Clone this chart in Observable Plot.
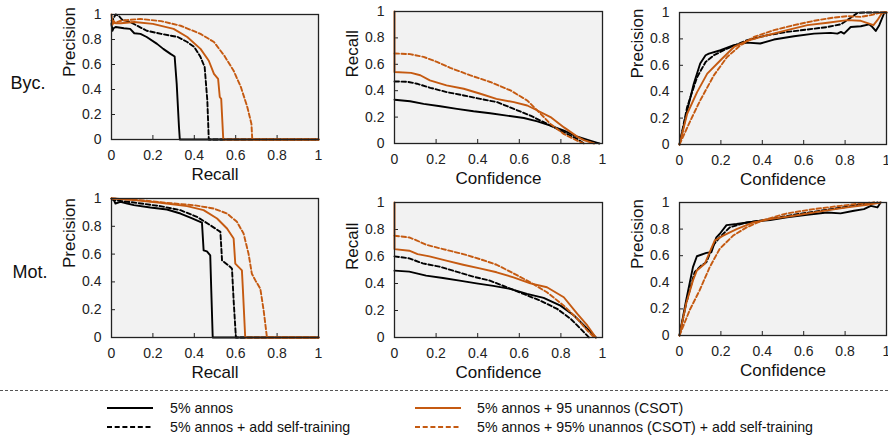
<!DOCTYPE html>
<html>
<head>
<meta charset="utf-8">
<script src="https://cdn.jsdelivr.net/npm/d3@7"></script>
<script src="https://cdn.jsdelivr.net/npm/@observablehq/plot@0.6"></script>
<style>
  html, body { margin: 0; padding: 0; background: #fff; overflow: hidden; }
  #root { position: relative; width: 888px; height: 435px; overflow: hidden; font-family: "Liberation Sans", Arial, sans-serif; }
  .rowlab { position: absolute; font-size: 18px; color: #111; transform: translate(-50%, -50%); }
  .legtext { position: absolute; font-size: 14.2px; color: #111; transform: translateY(-50%); white-space: nowrap; }
</style>
</head>
<body>
<div id="root"></div>
<script>
// ---------- data ----------
const seriesNames = [
  "5% annos",
  "5% annos + add self-training",
  "5% annos + 95 unannos (CSOT)",
  "5% annos + 95% unannos (CSOT) + add self-training"
];
const seriesColors = ["#000000", "#000000", "#c55a11", "#c55a11"];
const seriesDash = [null, "4.5,2.5", null, "4.5,2.5"];
const ticks = [0, 0.2, 0.4, 0.6, 0.8, 1];
const rowLabels = ["Byc.", "Mot."];

// Bicycle: precision vs recall
const bycPR_base = [[0,0.92],[0.005,0.87],[0.01,0.89],[0.02,0.9],[0.06,0.89],[0.09,0.885],[0.11,0.85],[0.14,0.845],[0.17,0.82],[0.22,0.765],[0.25,0.725],[0.285,0.685],[0.305,0.664],[0.315,0.445],[0.326,0.1],[0.33,0],[1,0]];
const bycPR_st   = [[0,0.93],[0.01,0.97],[0.02,1],[0.035,0.99],[0.05,0.96],[0.09,0.94],[0.17,0.87],[0.24,0.845],[0.32,0.82],[0.366,0.78],[0.4,0.74],[0.43,0.66],[0.45,0.58],[0.463,0.31],[0.47,0],[1,0]];
const bycPR_csot = [[0,1],[0.005,0.92],[0.01,0.95],[0.02,0.93],[0.045,0.93],[0.11,0.94],[0.2,0.925],[0.3,0.885],[0.366,0.82],[0.43,0.725],[0.47,0.63],[0.495,0.525],[0.515,0.485],[0.523,0.34],[0.53,0.325],[0.54,0],[1,0]];
const bycPR_csotST = [[0,0.95],[0.01,0.93],[0.045,0.95],[0.14,0.965],[0.24,0.947],[0.334,0.91],[0.43,0.845],[0.495,0.78],[0.545,0.67],[0.59,0.55],[0.625,0.42],[0.656,0.26],[0.676,0.125],[0.68,0],[1,0]];

// Bicycle: recall vs confidence
const bycRC_base = [[0,0.331],[0.075,0.32],[0.14,0.3],[0.22,0.282],[0.3,0.262],[0.38,0.244],[0.46,0.229],[0.54,0.211],[0.622,0.193],[0.687,0.168],[0.75,0.135],[0.815,0.097],[0.88,0.051],[0.944,0.02],[0.976,0.005],[0.985,0]];
const bycRC_st   = [[0,0.47],[0.06,0.468],[0.108,0.453],[0.172,0.422],[0.252,0.389],[0.333,0.364],[0.413,0.338],[0.494,0.313],[0.574,0.262],[0.654,0.211],[0.735,0.148],[0.815,0.084],[0.88,0.033],[0.91,0]];
const bycRC_csot = [[0,1],[0,0.542],[0.08,0.535],[0.124,0.517],[0.17,0.478],[0.25,0.44],[0.333,0.415],[0.413,0.377],[0.49,0.338],[0.574,0.313],[0.638,0.288],[0.687,0.25],[0.75,0.2],[0.815,0.122],[0.88,0.05],[0.91,0.025],[0.96,0]];
const bycRC_csotST = [[0,0.682],[0.075,0.677],[0.14,0.656],[0.204,0.618],[0.268,0.573],[0.365,0.516],[0.46,0.466],[0.558,0.402],[0.638,0.326],[0.687,0.25],[0.75,0.148],[0.815,0.071],[0.88,0.02],[0.91,0]];

// Bicycle: precision vs confidence
const bycPC_base = [[0,0],[0.037,0.258],[0.069,0.46],[0.1,0.613],[0.126,0.676],[0.142,0.689],[0.198,0.714],[0.263,0.752],[0.327,0.772],[0.39,0.765],[0.456,0.795],[0.553,0.82],[0.65,0.84],[0.73,0.846],[0.763,0.84],[0.78,0.853],[0.795,0.84],[0.827,0.89],[0.876,0.896],[0.916,0.91],[0.932,0.89],[0.948,0.86],[0.965,0.904],[0.99,1],[1,1]];
const bycPC_st   = [[0,0],[0.037,0.284],[0.085,0.51],[0.126,0.625],[0.166,0.676],[0.23,0.727],[0.327,0.79],[0.424,0.828],[0.52,0.853],[0.618,0.871],[0.715,0.89],[0.78,0.911],[0.827,0.96],[0.86,0.997],[0.9,1],[1,1]];
const bycPC_csot = [[0,0],[0.037,0.233],[0.085,0.397],[0.134,0.537],[0.198,0.638],[0.263,0.739],[0.327,0.785],[0.424,0.828],[0.52,0.866],[0.618,0.904],[0.715,0.922],[0.81,0.942],[0.876,0.937],[0.916,0.916],[0.937,0.904],[0.956,0.942],[0.98,1],[1,1]];
const bycPC_csotST = [[0,0],[0.053,0.182],[0.1,0.334],[0.166,0.524],[0.23,0.663],[0.295,0.752],[0.36,0.815],[0.456,0.866],[0.553,0.904],[0.65,0.937],[0.747,0.962],[0.81,0.972],[0.876,0.967],[0.924,0.98],[0.97,1],[1,1]];

// Motorcycle: precision vs recall
const motPR_base = [[0,1],[0.011,0.988],[0.019,0.964],[0.043,0.976],[0.076,0.964],[0.108,0.952],[0.188,0.935],[0.268,0.921],[0.333,0.892],[0.381,0.863],[0.437,0.827],[0.445,0.627],[0.461,0.62],[0.477,0.591],[0.482,0.339],[0.489,0],[1,0]];
const motPR_st   = [[0,1],[0.011,0.988],[0.108,0.971],[0.236,0.945],[0.333,0.916],[0.413,0.868],[0.477,0.808],[0.526,0.76],[0.534,0.555],[0.574,0.507],[0.582,0.495],[0.59,0.267],[0.601,0],[1,0]];
const motPR_csot = [[0,1],[0.011,1],[0.108,0.988],[0.236,0.969],[0.365,0.945],[0.445,0.916],[0.51,0.856],[0.558,0.784],[0.59,0.712],[0.598,0.531],[0.63,0.483],[0.635,0.339],[0.646,0],[1,0]];
const motPR_csotST = [[0,1],[0.14,0.988],[0.268,0.969],[0.397,0.952],[0.494,0.928],[0.558,0.892],[0.606,0.832],[0.638,0.748],[0.662,0.603],[0.678,0.459],[0.695,0.411],[0.719,0.351],[0.735,0.195],[0.751,0],[1,0]];

// Motorcycle: recall vs confidence
const motRC_base = [[0,0.495],[0.071,0.488],[0.152,0.458],[0.233,0.441],[0.313,0.421],[0.394,0.401],[0.475,0.382],[0.556,0.36],[0.637,0.323],[0.717,0.293],[0.798,0.236],[0.863,0.163],[0.911,0.089],[0.952,0.027],[0.968,0]];
const motRC_st   = [[0,0.601],[0.071,0.586],[0.136,0.549],[0.216,0.525],[0.297,0.488],[0.378,0.451],[0.459,0.421],[0.54,0.372],[0.62,0.323],[0.701,0.273],[0.782,0.212],[0.847,0.138],[0.895,0.064],[0.935,0]];
const motRC_csot = [[0,1],[0,0.655],[0.071,0.643],[0.111,0.618],[0.168,0.601],[0.249,0.569],[0.33,0.539],[0.41,0.512],[0.491,0.483],[0.572,0.446],[0.653,0.401],[0.733,0.372],[0.814,0.298],[0.879,0.175],[0.927,0.089],[0.968,0]];
const motRC_csotST = [[0,0.754],[0.071,0.741],[0.103,0.722],[0.152,0.687],[0.233,0.655],[0.33,0.618],[0.41,0.581],[0.491,0.539],[0.572,0.475],[0.653,0.409],[0.733,0.335],[0.814,0.236],[0.879,0.138],[0.927,0.052],[0.96,0]];

// Motorcycle: precision vs confidence
const motPC_base = [[0,0],[0.032,0.264],[0.065,0.514],[0.084,0.596],[0.13,0.621],[0.154,0.626],[0.178,0.738],[0.194,0.763],[0.227,0.83],[0.276,0.838],[0.357,0.855],[0.438,0.868],[0.519,0.888],[0.616,0.908],[0.713,0.925],[0.778,0.918],[0.843,0.938],[0.891,0.95],[0.924,0.975],[0.956,0.963],[0.972,1]];
const motPC_st   = [[0,0],[0.032,0.239],[0.073,0.476],[0.105,0.526],[0.13,0.551],[0.162,0.676],[0.194,0.738],[0.243,0.813],[0.324,0.85],[0.438,0.875],[0.551,0.908],[0.681,0.938],[0.81,0.968],[0.908,0.993],[0.956,1]];
const motPC_csot = [[0,0],[0.032,0.239],[0.065,0.414],[0.084,0.489],[0.122,0.539],[0.146,0.626],[0.17,0.713],[0.211,0.751],[0.276,0.8],[0.357,0.85],[0.438,0.875],[0.551,0.9],[0.681,0.933],[0.81,0.963],[0.908,0.983],[0.972,1]];
const motPC_csotST = [[0,0],[0.049,0.19],[0.097,0.339],[0.146,0.514],[0.194,0.651],[0.259,0.751],[0.324,0.813],[0.405,0.868],[0.519,0.918],[0.648,0.95],[0.778,0.975],[0.875,0.993],[0.94,1]];

// ---------- layout ----------
const panels = [
  {box:[111,318,14,139],  xlabel:"Recall",     ylabel:"Precision", data:[bycPR_base,bycPR_st,bycPR_csot,bycPR_csotST]},
  {box:[394,602,11,143],  xlabel:"Confidence", ylabel:"Recall",    data:[bycRC_base,bycRC_st,bycRC_csot,bycRC_csotST]},
  {box:[679,886,12,144],  xlabel:"Confidence", ylabel:"Precision", data:[bycPC_base,bycPC_st,bycPC_csot,bycPC_csotST]},
  {box:[111,318,198,337], xlabel:"Recall",     ylabel:"Precision", data:[motPR_base,motPR_st,motPR_csot,motPR_csotST]},
  {box:[394,602,202,337], xlabel:"Confidence", ylabel:"Recall",    data:[motRC_base,motRC_st,motRC_csot,motRC_csotST]},
  {box:[679,886,202,335], xlabel:"Confidence", ylabel:"Precision", data:[motPC_base,motPC_st,motPC_csot,motPC_csotST]}
];

const root = document.getElementById("root");
const FONT = "'Liberation Sans', Arial, sans-serif";
const fmt = d => (d === 0 ? "0" : d === 1 ? "1" : d.toFixed(1));
const ML = 64, MR = 6, MT = 8, MB = 50;

panels.forEach(p => {
  const [x0, x1, y0, y1] = p.box;
  const pw = x1 - x0, ph = y1 - y0;
  const rows = [];
  p.data.forEach((arr, i) => arr.forEach(([x, y]) => rows.push({x, y, s: i})));
  const marks = [
    Plot.frame({fill: "#f2f2f2"}),
    Plot.ruleX(ticks.slice(1, -1), {x: d => d, insetTop: ph - 4, stroke: "#222", strokeWidth: 1}),
    Plot.ruleY(ticks.slice(1, -1), {y: d => d, insetRight: pw - 4, stroke: "#222", strokeWidth: 1})
  ];
  [0, 1, 2, 3].forEach(i => {
    marks.push(Plot.line(rows.filter(r => r.s === i), {
      x: "x", y: "y", stroke: seriesColors[i], strokeWidth: 1.9,
      strokeDasharray: seriesDash[i], strokeLinejoin: "round"
    }));
  });
  marks.push(
    Plot.frame({stroke: "#222", strokeWidth: 1.3}),
    Plot.axisX(ticks, {tickFormat: fmt, tickSize: 0, tickPadding: 11, label: null, fontSize: 14, fill: "#222"}),
    Plot.axisY(ticks, {tickFormat: fmt, tickSize: 0, tickPadding: 10, label: null, fontSize: 14, fill: "#222"}),
    Plot.text([p.xlabel], {text: d => d, frameAnchor: "bottom", lineAnchor: "middle", dy: 35, fontSize: 17, fill: "#111"}),
    Plot.text([p.ylabel], {text: d => d, frameAnchor: "left", lineAnchor: "middle", dx: -42, rotate: -90, fontSize: 17, fill: "#111"})
  );
  const chart = Plot.plot({
    width: pw + ML + MR, height: ph + MT + MB,
    marginLeft: ML, marginRight: MR, marginTop: MT, marginBottom: MB,
    x: {domain: [0, 1]}, y: {domain: [0, 1]},
    style: {fontFamily: FONT, background: "transparent", overflow: "visible"},
    marks
  });
  chart.style.position = "absolute";
  chart.style.left = (x0 - ML) + "px";
  chart.style.top = (y0 - MT) + "px";
  root.appendChild(chart);
});

// row labels
[[28, 83], [30, 272]].forEach(([x, y], i) => {
  const d = document.createElement("div");
  d.className = "rowlab";
  d.style.left = x + "px"; d.style.top = y + "px";
  d.textContent = rowLabels[i];
  root.appendChild(d);
});

// separator + legend samples
const NS = "http://www.w3.org/2000/svg";
const svg = document.createElementNS(NS, "svg");
svg.setAttribute("width", 888); svg.setAttribute("height", 60);
svg.style.position = "absolute"; svg.style.left = "0px"; svg.style.top = "380px";
const sep = document.createElementNS(NS, "line");
sep.setAttribute("x1", 0); sep.setAttribute("x2", 888);
sep.setAttribute("y1", 10.5); sep.setAttribute("y2", 10.5);
sep.setAttribute("stroke", "#555"); sep.setAttribute("stroke-width", 1);
sep.setAttribute("stroke-dasharray", "3,2");
svg.appendChild(sep);
const legPos = [[107, 408], [107, 427], [415, 408], [415, 427]];
legPos.forEach(([x, y], i) => {
  const l = document.createElementNS(NS, "line");
  l.setAttribute("x1", x); l.setAttribute("x2", x + 46);
  l.setAttribute("y1", y - 380); l.setAttribute("y2", y - 380);
  l.setAttribute("stroke", seriesColors[i]); l.setAttribute("stroke-width", 2);
  if (seriesDash[i]) l.setAttribute("stroke-dasharray", "5,2.7");
  svg.appendChild(l);
  const t = document.createElement("div");
  t.className = "legtext";
  t.style.left = (i < 2 ? 170 : 477) + "px";
  t.style.top = y + "px";
  t.textContent = seriesNames[i];
  root.appendChild(t);
});
root.appendChild(svg);
</script>
</body>
</html>
